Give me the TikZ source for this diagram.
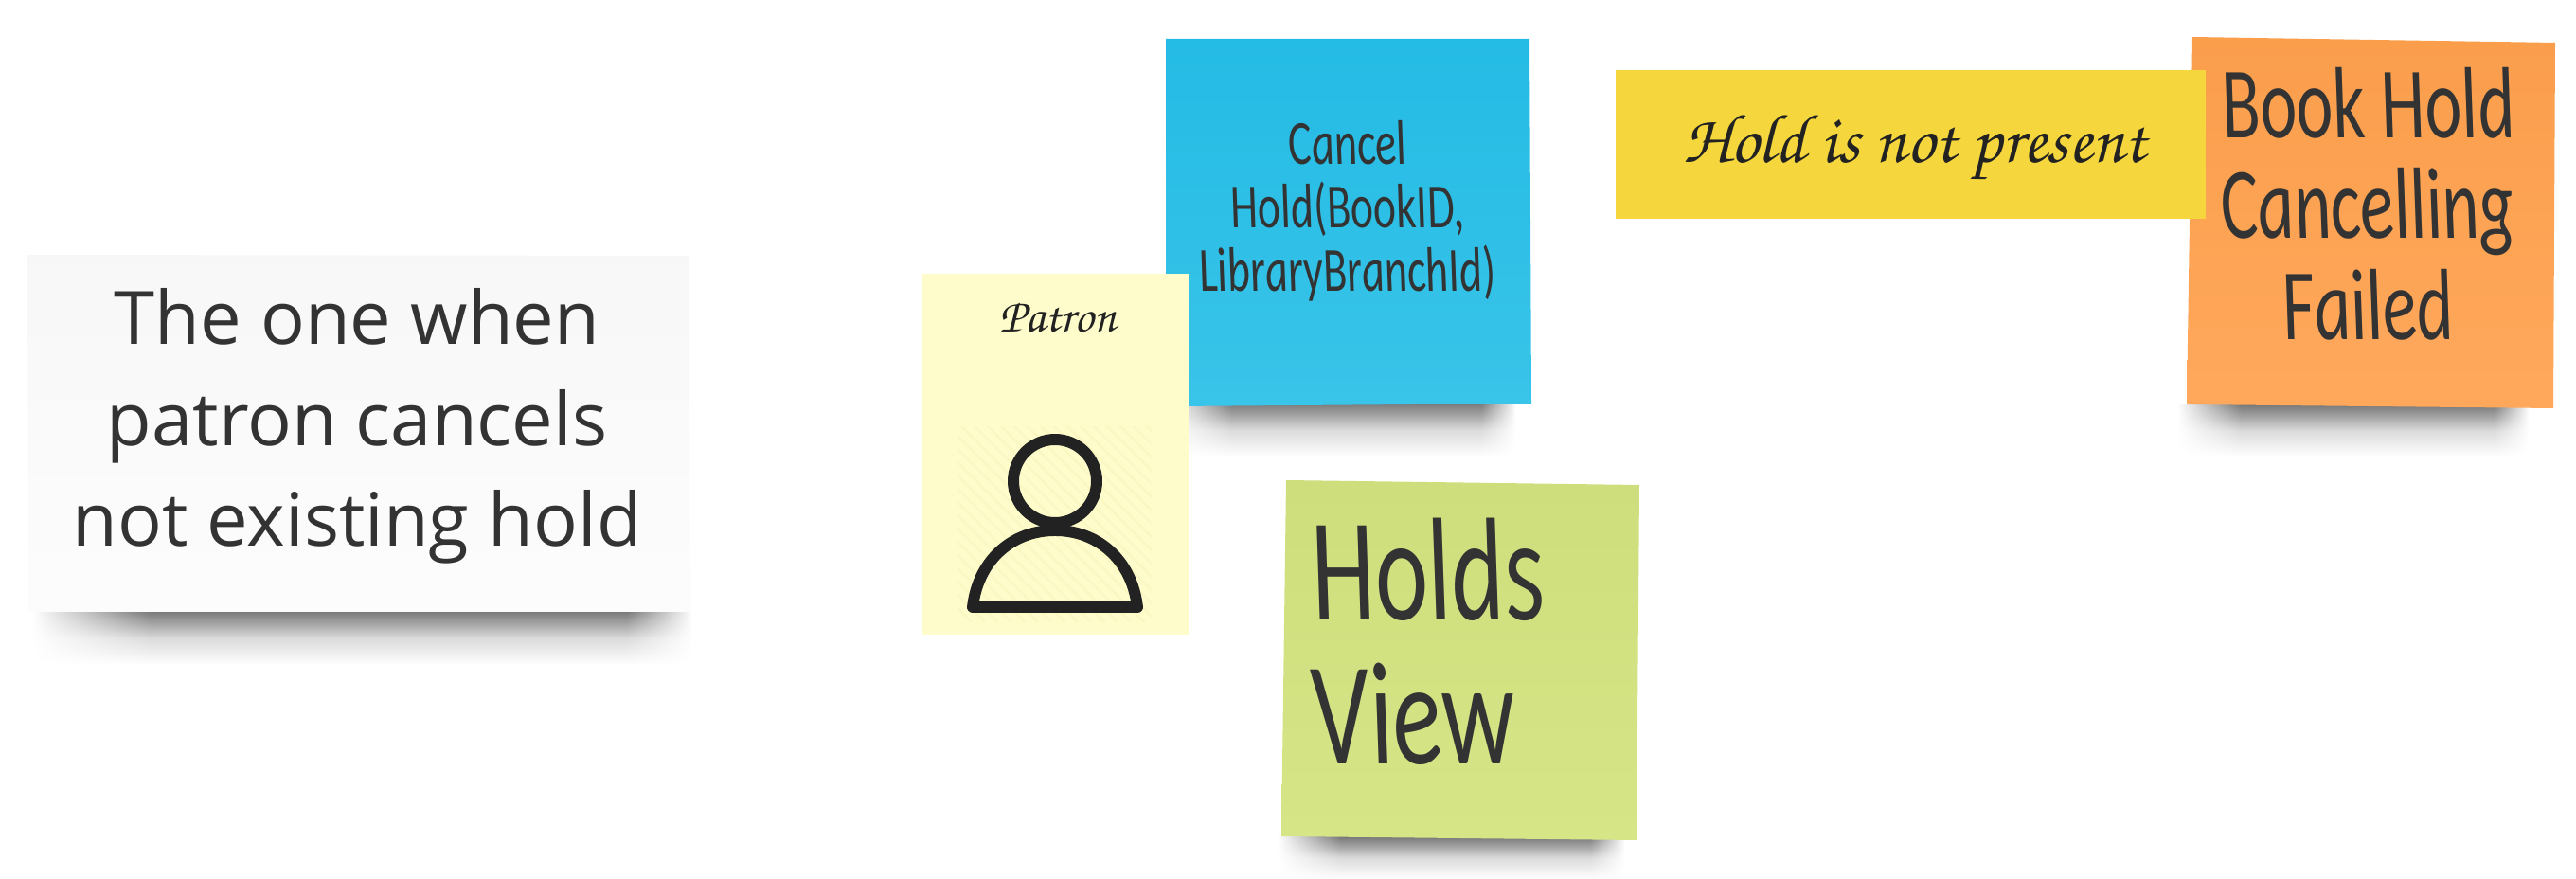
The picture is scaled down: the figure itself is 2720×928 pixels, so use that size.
\documentclass[tikz,border=0pt]{standalone}
\usepackage{fontspec}
\usetikzlibrary{fadings}
\newfontfamily\boardfont{Open Sans}
\newfontfamily\handfont[UprightFont=* Italic,FakeStretch=.7,FakeSlant=-.12]{Carlito}
\newcommand{\penfont}{\fontencoding{OT1}\fontfamily{pzc}\fontseries{mb}\fontshape{it}\selectfont}
\definecolor{inkgrey}{HTML}{333333}
\definecolor{inkdark}{HTML}{222222}
\pgfdeclarehorizontalshading{shadowendsramp}{100bp}{color(0bp)=(black); color(25bp)=(black); color(34bp)=(white); color(70bp)=(white); color(75bp)=(black); color(100bp)=(black)}
\pgfdeclarefading{shadowends}{\pgfuseshading{shadowendsramp}}
\tikzset{
  noteshadow/.style={top color=black!52,bottom color=white,middle color=black!14,path fading=shadowends},
  handtext/.style={text=inkgrey,align=center,inner sep=0pt},
  pentext/.style={text=inkdark,inner sep=0pt}
}
\begin{document}
\begin{tikzpicture}[x=.01cm,y=-.01cm]
\useasboundingbox (0,0) rectangle (2720,928);
% shadows first
\shade[noteshadow] (35,646) rectangle (730,702);
\shade[noteshadow] (1235,426) rectangle (1600,482);
\shade[noteshadow] (1350,884) rectangle (1715,928);
\shade[noteshadow] (2300,428) rectangle (2670,482);
% notes
\shade[top color=white!97!black,bottom color=white!99!black] (29,269) -- (727,270) -- (729,646) -- (30,646) -- cycle;
\shade[top color={rgb,255:red,36;green,187;blue,228},bottom color={rgb,255:red,57;green,196;blue,233}] (1231,41) -- (1615,41) -- (1617,426) -- (1240,429) -- (1231,429) -- cycle;
\shade[top color={rgb,255:red,206;green,222;blue,124},bottom color={rgb,255:red,214;green,230;blue,135}] (1358,507) -- (1731,512) -- (1728,887) -- (1353,883) -- cycle;
\shade[top color={rgb,255:red,250;green,158;blue,76},bottom color={rgb,255:red,255;green,168;blue,92}] (2315,39) -- (2698,45) -- (2696,431) -- (2309,427) -- cycle;
\fill[fill={rgb,255:red,245;green,214;blue,60}] (1706,74) rectangle (2329,231);
\fill[fill={rgb,255:red,254;green,252;blue,203}] (974,289) rectangle (1255,670);
% hatch behind the icon
\begin{scope}
  \clip (1012,451) rectangle (1216,657);
  \foreach \i in {0,14,...,420}
    \draw[line width=.6pt,color={rgb,255:red,250;green,247;blue,194}] (1012+\i,657) -- (1012+\i-210,447);
\end{scope}
% icon
\draw[line width=3.4pt,color=inkdark] (1114,508) circle[x radius=44,y radius=44];
\draw[line width=3.4pt,color=inkdark,line join=round] (1027,641) .. controls (1033,590) and (1070,560) .. (1114,560) .. controls (1158,560) and (1195,590) .. (1201,641) -- cycle;
% texts
\node[text=inkgrey,align=center,inner sep=0pt,font=\fontsize{22.1pt}{30.35pt}\boardfont] (title) at (377,450) {The one when\\patron cancels\\not existing hold};
\node[handtext,font=\fontsize{18.9pt}{19pt}\handfont] (cancel) at (1425,223) {Cancel\\Hold(BookID,\\LibraryBranchId)};
\node[pentext,font=\fontsize{14.4pt}{16pt}\penfont] (patron) at (1117,335) {Patron};
\node[handtext,align=left,anchor=west,font=\fontsize{44pt}{43.2pt}\handfont] (holds) at (1389,677) {Holds\\View};
\node[pentext,font=\fontsize{20.8pt}{24pt}\penfont] (absent) at (2022,157) {Hold is not present};
\node[handtext,font=\fontsize{30.4pt}{30.35pt}\handfont] (failed) at (2504,215) {Book Hold\\Cancelling\\Failed};
\end{tikzpicture}
\end{document}
